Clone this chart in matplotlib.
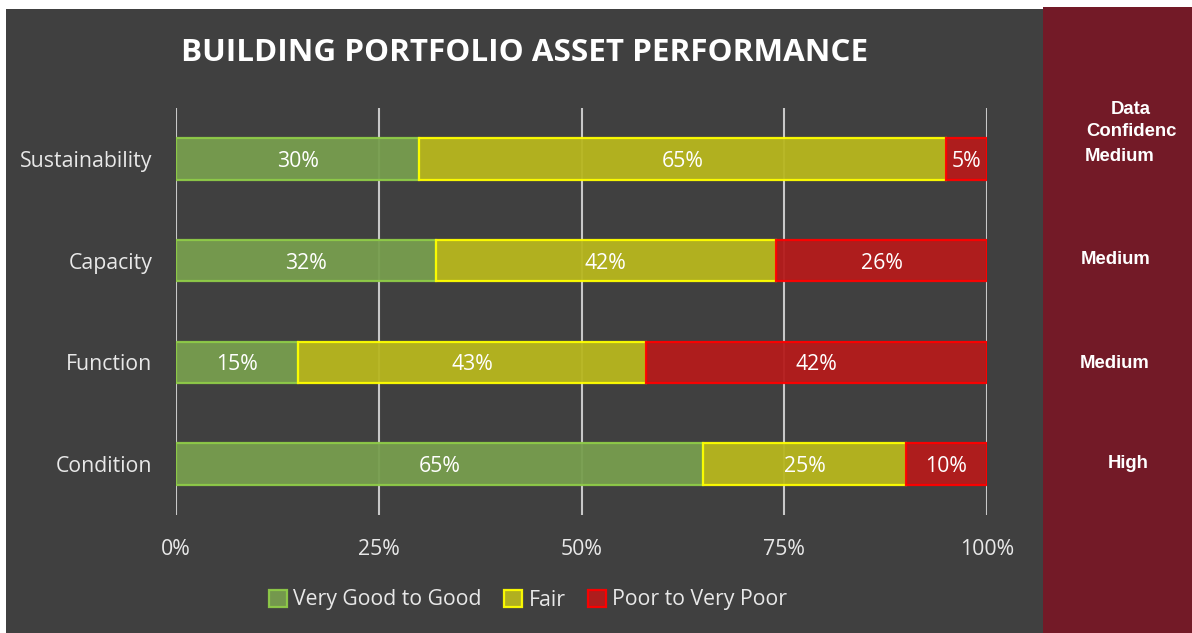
import matplotlib
matplotlib.use("Agg")
import matplotlib.pyplot as plt
from matplotlib.patches import Rectangle
import numpy as np

categories = ["Sustainability", "Capacity", "Function", "Condition"]
good = [30, 32, 15, 65]
fair = [65, 42, 43, 25]
poor = [5, 26, 42, 10]
confidence = ["Medium", "Medium", "Medium", "High"]
series_names = ["Very Good to Good", "Fair", "Poor to Very Poor"]
tick_vals = [0, 25, 50, 75, 100]
tick_labels = ["0%", "25%", "50%", "75%", "100%"]

W, H = 1192, 633
fig = plt.figure(figsize=(W / 100, H / 100), dpi=100)
fig.patch.set_facecolor("white")

bg = "#404040"
# background panels
fig.patches.append(Rectangle((6 / W, 0), (1043 - 6) / W, (H - 9) / H,
                             transform=fig.transFigure, facecolor=bg, edgecolor="none", zorder=-10))
fig.patches.append(Rectangle((1043 / W, 0), (W - 1043) / W, (H - 7) / H,
                             transform=fig.transFigure, facecolor="#731A27", edgecolor="none", zorder=-10))

left, right, top, bottom = 176, 987, 108, 515
ax = fig.add_axes([left / W, 1 - bottom / H, (right - left) / W, (bottom - top) / H])
ax.set_facecolor("none")
ax.set_xlim(0, 100)
ax.set_ylim(len(categories) - 0.5, -0.5)

font = "Open Sans"
y = np.arange(len(categories))
fills = ["#779E4E", "#B8B71E", "#B51B1B"]
edges = ["#8FCB48", "#FFFF00", "#FF0000"]
series = [good, fair, poor]
lefts = np.zeros(len(categories))
for vals, fc, ec, name in zip(series, fills, edges, series_names):
    vals = np.array(vals, dtype=float)
    ax.barh(y, vals, left=lefts, height=0.41, color=fc, edgecolor=ec,
            linewidth=1.6, alpha=0.95, zorder=3, label=name)
    for yi, l, v in zip(y, lefts, vals):
        ax.text(l + v / 2, yi, f"{int(v)}%", ha="center", va="center_baseline",
                color="white", fontsize=15.3, family=font, zorder=5)
    lefts += vals

for t in tick_vals:
    ax.axvline(t, color="#C8C8C8", linewidth=1.5, zorder=1)

for s in ax.spines.values():
    s.set_visible(False)
ax.set_xticks(tick_vals)
ax.set_xticklabels(tick_labels)
ax.set_yticks(y)
ax.set_yticklabels(categories)
ax.tick_params(length=0, colors="#E8E8E8", labelsize=15.3)
ax.tick_params(axis="x", pad=17)
ax.tick_params(axis="y", pad=17)
for lab in ax.get_xticklabels() + ax.get_yticklabels():
    lab.set_family(font)
    lab.set_color("#E8E8E8")

fig.text(525 / W, 1 - 53 / H, "BUILDING PORTFOLIO ASSET PERFORMANCE", ha="center", va="center",
         color="white", fontsize=22.6, fontweight="bold", family=font)

leg = ax.legend(loc="center", bbox_to_anchor=(528 / W, 1 - 600 / H), bbox_transform=fig.transFigure,
                ncol=3, frameon=False, handlelength=0.85, handleheight=0.85,
                handletextpad=0.3, columnspacing=1.05, prop={"family": font, "size": 15.3})
for t in leg.get_texts():
    t.set_color("#E8E8E8")

# right panel
fs = 13.3
fig.text(1131 / W, 1 - 109 / H, "Data", ha="center", va="center", color="white",
         fontsize=fs, fontweight="bold", family="Liberation Sans")
fig.text(1131 / W, 1 - 132 / H, "Confidenc", ha="center", va="center", color="white",
         fontsize=fs, fontweight="bold", family="Liberation Sans")
conf_pos = [(1120, 157), (1116, 259), (1115, 364), (1128, 463)]
for txt, (px, py) in zip(confidence, conf_pos):
    fig.text(px / W, 1 - py / H, txt, ha="center", va="center", color="white",
             fontsize=fs, fontweight="bold", family="Liberation Sans")

fig.savefig("out.png", dpi=100, facecolor=fig.get_facecolor())
